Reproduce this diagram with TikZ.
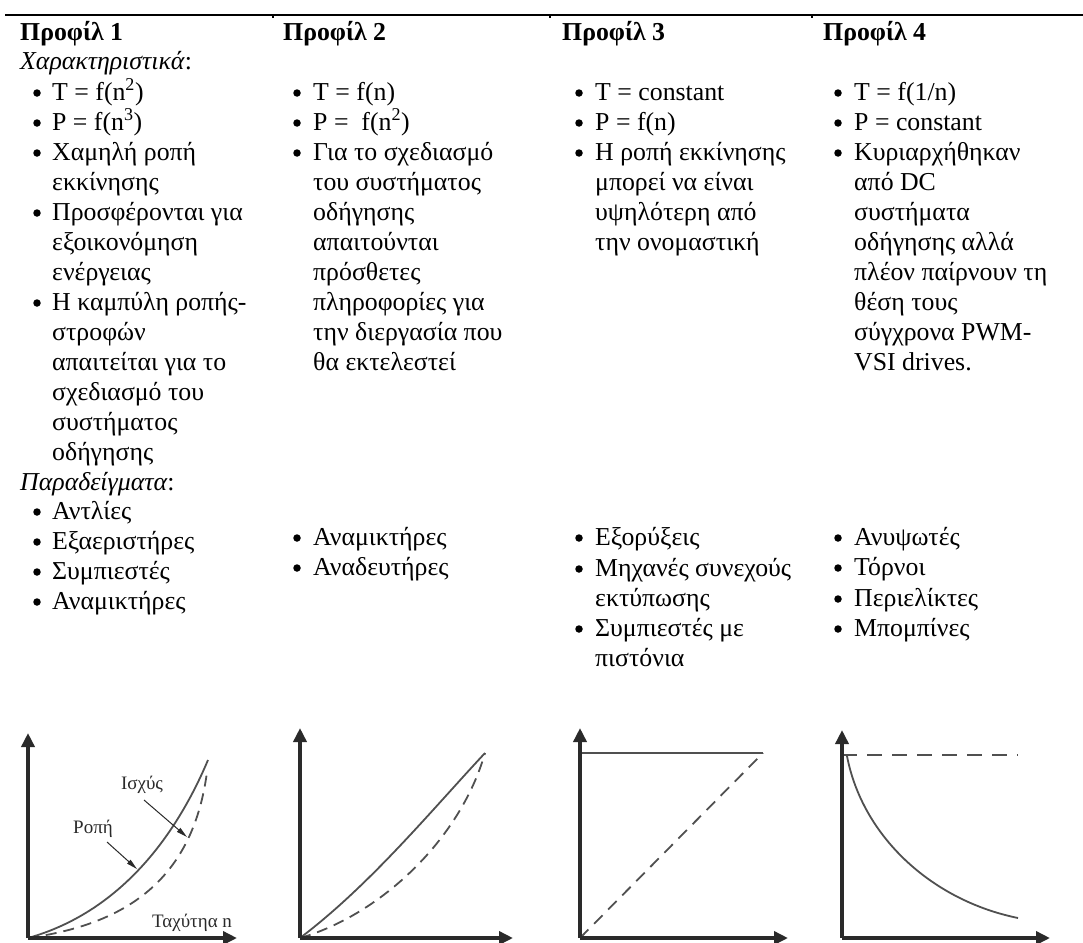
\documentclass[tikz,border=0pt]{standalone}
\usepackage{fontspec}
\setmainfont{Liberation Serif}
\usetikzlibrary{arrows.meta}
\newcommand\TL[4]{\node[txt] (#1) at (#2,{#3+8}) {#4};}
\newcommand\BU[3]{\node[bul] (#1) at (#2,{#3+1}) {};}
\definecolor{axc}{HTML}{2A2A2A}
\definecolor{cvc}{HTML}{505050}
\begin{document}
\begin{tikzpicture}[x=1pt,y=-1pt,
  txt/.style={anchor=base west,inner sep=0pt,font=\fontsize{25.8}{30}\selectfont},
  bul/.style={circle,fill=black,inner sep=0pt,minimum size=7.5pt},
  lbl/.style={inner sep=0pt,text=axc,font=\fontsize{19}{22}\selectfont},
  axis/.style={draw=axc,line width=3.5pt,-{Triangle[length=14pt,width=13pt]}},
  curve/.style={draw=cvc,line width=1.8pt},
  dcurve/.style={draw=cvc,line width=1.8pt,dash pattern=on 11pt off 7pt},
  ptr/.style={draw=axc,line width=1pt,-{Triangle[length=11pt,width=5pt]}}]
\useasboundingbox (0,0) rectangle (1083,942);
% top rule
\draw[line width=1.5pt] (5,15) -- (1083,15);
\foreach \tx in {273,550,812}{\draw[line width=1.5pt] (\tx,15) -- (\tx,18);}
% ---------------- column 1
\TL{h1}{20}{33}{\textbf{Προφίλ 1}}
\TL{c1a}{20}{62}{\textit{Χαρακτηριστικά}:}
\BU{b11}{37}{92}\TL{c1b}{52}{92}{T = f(n\textsuperscript{2})}
\BU{b12}{37}{122}\TL{c1c}{52}{122}{P = f(n\textsuperscript{3})}
\BU{b13}{37}{152}\TL{c1d}{52}{152}{Χαμηλή ροπή}
\TL{c1e}{52}{182}{εκκίνησης}
\BU{b14}{37}{212}\TL{c1f}{52}{212}{Προσφέρονται για}
\TL{c1g}{52}{242}{εξοικονόμηση}
\TL{c1h}{52}{272}{ενέργειας}
\BU{b15}{37}{302}\TL{c1i}{52}{302}{Η καμπύλη ροπής-}
\TL{c1j}{52}{332}{στροφών}
\TL{c1k}{52}{362}{απαιτείται για το}
\TL{c1l}{52}{392}{σχεδιασμό του}
\TL{c1m}{52}{422}{συστήματος}
\TL{c1n}{52}{452}{οδήγησης}
\TL{c1o}{20}{482}{\textit{Παραδείγματα}:}
\BU{b16}{37}{511}\TL{c1p}{52}{511}{Αντλίες}
\BU{b17}{37}{541}\TL{c1q}{52}{541}{Εξαεριστήρες}
\BU{b18}{37}{571}\TL{c1r}{52}{571}{Συμπιεστές}
\BU{b19}{37}{601}\TL{c1s}{52}{601}{Αναμικτήρες}
% ---------------- column 2
\TL{h2}{283}{33}{\textbf{Προφίλ 2}}
\BU{b21}{297}{92}\TL{c2b}{313}{92}{T = f(n)}
\BU{b22}{297}{122}\TL{c2c}{313}{122}{P =\ \ f(n\textsuperscript{2})}
\BU{b23}{297}{152}\TL{c2d}{313}{152}{Για το σχεδιασμό}
\TL{c2e}{313}{182}{του συστήματος}
\TL{c2f}{313}{212}{οδήγησης}
\TL{c2g}{313}{242}{απαιτούνται}
\TL{c2h}{313}{272}{πρόσθετες}
\TL{c2i}{313}{302}{πληροφορίες για}
\TL{c2j}{313}{332}{την διεργασία που}
\TL{c2k}{313}{362}{θα εκτελεστεί}
\BU{b24}{297}{537}\TL{c2l}{313}{537}{Αναμικτήρες}
\BU{b25}{297}{567}\TL{c2m}{313}{567}{Αναδευτήρες}
% ---------------- column 3
\TL{h3}{562}{33}{\textbf{Προφίλ 3}}
\BU{b31}{579}{92}\TL{c3b}{595}{92}{T = constant}
\BU{b32}{579}{122}\TL{c3c}{595}{122}{P = f(n)}
\BU{b33}{579}{152}\TL{c3d}{595}{152}{Η ροπή εκκίνησης}
\TL{c3e}{595}{182}{μπορεί να είναι}
\TL{c3f}{595}{212}{υψηλότερη από}
\TL{c3g}{595}{242}{την ονομαστική}
\BU{b34}{579}{537}\TL{c3h}{595}{537}{Εξορύξεις}
\BU{b35}{579}{568}\TL{c3i}{595}{568}{Μηχανές συνεχούς}
\TL{c3j}{595}{598}{εκτύπωσης}
\BU{b36}{579}{628}\TL{c3k}{595}{628}{Συμπιεστές με}
\TL{c3l}{595}{658}{πιστόνια}
% ---------------- column 4
\TL{h4}{823}{33}{\textbf{Προφίλ 4}}
\BU{b41}{838}{92}\TL{c4b}{854}{92}{T = f(1/n)}
\BU{b42}{838}{122}\TL{c4c}{854}{122}{P = constant}
\BU{b43}{838}{152}\TL{c4d}{854}{152}{Κυριαρχήθηκαν}
\TL{c4e}{854}{182}{από DC}
\TL{c4f}{854}{212}{συστήματα}
\TL{c4g}{854}{242}{οδήγησης αλλά}
\TL{c4h}{854}{272}{πλέον παίρνουν τη}
\TL{c4i}{854}{302}{θέση τους}
\TL{c4j}{854}{332}{σύγχρονα PWM-}
\TL{c4k}{854}{362}{VSI drives.}
\BU{b44}{838}{537}\TL{c4l}{854}{537}{Ανυψωτές}
\BU{b45}{838}{567}\TL{c4m}{854}{567}{Τόρνοι}
\BU{b46}{838}{598}\TL{c4n}{854}{598}{Περιελίκτες}
\BU{b47}{838}{628}\TL{c4o}{854}{628}{Μπομπίνες}
% ---------------- graph 1
\coordinate (o1) at (28,938);
\coordinate (y1) at (28,733);
\coordinate (x1) at (237,938);
\draw[curve] (o1) .. controls (110,915) and (170,850) .. (208,760);
\draw[dcurve] (o1) .. controls (120,925) and (192,885) .. (207,772);
\draw[axis] (o1) -- (y1);
\draw[axis] (o1) -- (x1);
\node[lbl] (isx) at (142,785) {Ισχύς};
\coordinate (isxt) at (187,837);
\draw[ptr] (144,800) -- (isxt);
\node[lbl] (rop) at (93,829) {Ροπή};
\coordinate (ropt) at (137,869);
\draw[ptr] (107,842) -- (ropt);
\node[lbl] (tax) at (192,923) {Ταχύτηα n};
% ---------------- graph 2
\coordinate (o2) at (300,938);
\coordinate (y2) at (300,728);
\coordinate (x2) at (513,938);
\draw[curve] (o2) .. controls (370,885) and (430,812) .. (485,753);
\draw[dcurve] (o2) .. controls (380,915) and (460,840) .. (485,753);
\draw[axis] (o2) -- (y2);
\draw[axis] (o2) -- (x2);
% ---------------- graph 3
\coordinate (o3) at (580,938);
\coordinate (y3) at (580,728);
\coordinate (x3) at (788,938);
\draw[curve] (580,753) -- (763,753);
\draw[dcurve,dash pattern=on 12pt off 8pt] (o3) -- (763,753);
\draw[axis] (o3) -- (y3);
\draw[axis] (o3) -- (x3);
% ---------------- graph 4
\coordinate (o4) at (842,938);
\coordinate (y4) at (842,730);
\coordinate (x4) at (1050,938);
\draw[dcurve,dash pattern=on 15pt off 10pt] (842,755) -- (1018,755);
\draw[curve] (847,756) .. controls (862,835) and (930,900) .. (1018,918);
\draw[axis] (o4) -- (y4);
\draw[axis] (o4) -- (x4);
\end{tikzpicture}
\end{document}
